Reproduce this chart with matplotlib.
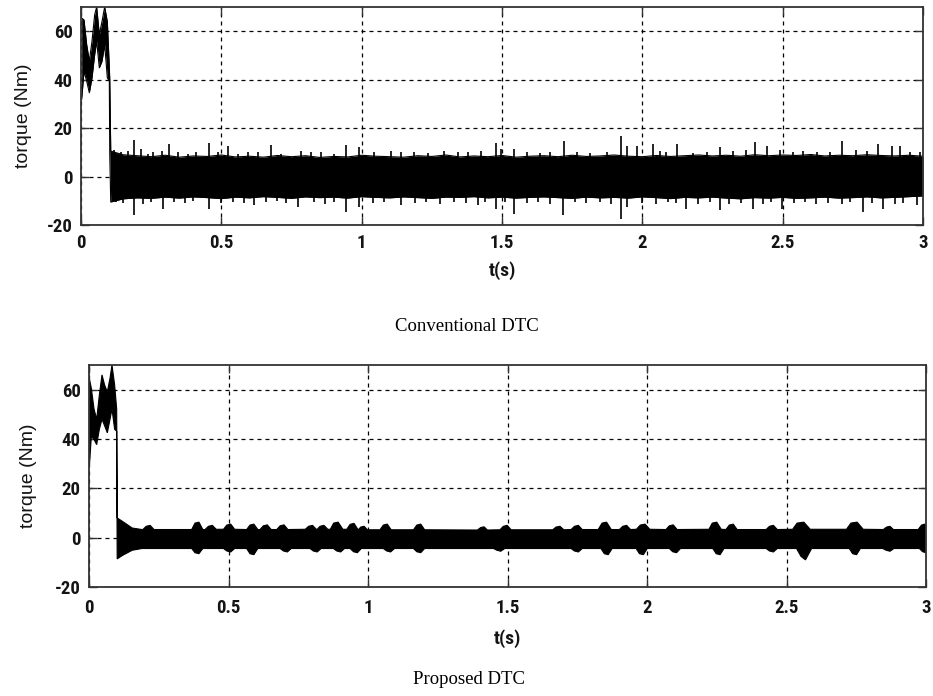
import matplotlib
matplotlib.use("Agg")
import matplotlib.pyplot as plt
from matplotlib import font_manager

# ---------------- data ----------------
xticks = [0, 0.5, 1, 1.5, 2, 2.5, 3]
xtick_labels = ["0", "0.5", "1", "1.5", "2", "2.5", "3"]
yticks = [-20, 0, 20, 40, 60]
ytick_labels = ["-20", "0", "20", "40", "60"]
captions = ["Conventional DTC", "Proposed DTC"]

# Conventional DTC: envelope of the torque signal (start-up + steady band)
conv_t = [0.0024, 0.0107, 0.0202, 0.0297, 0.0392, 0.0487, 0.0558, 0.0653,
          0.0748, 0.0843, 0.0938, 0.1009, 0.1025, 0.106,
          0.15, 0.20, 0.25, 0.30, 0.35, 0.40, 0.45, 0.50, 0.55, 0.60,
          0.65, 0.70, 0.75, 0.80, 0.85, 0.90, 0.95, 1.00, 1.05, 1.10,
          1.15, 1.20, 1.25, 1.30, 1.35, 1.40, 1.45, 1.50, 1.55, 1.60,
          1.65, 1.70, 1.75, 1.80, 1.85, 1.90, 1.95, 2.00, 2.05, 2.10,
          2.15, 2.20, 2.25, 2.30, 2.35, 2.40, 2.45, 2.50, 2.55, 2.60,
          2.65, 2.70, 2.75, 2.80, 2.85, 2.90, 2.95, 3.00]
conv_hi = [65.4, 64.7, 54.5, 47.6, 55.9, 66.8, 70.0, 58.6,
           64.0, 70.0, 64.0, 44.9, 40.0, 10.5,
           9.0, 8.6, 8.2, 8.8, 8.0, 8.5, 8.3, 8.9, 8.1, 8.4,
           8.0, 8.7, 8.2, 8.6, 7.9, 8.3, 8.1, 8.8, 8.4, 8.2,
           8.0, 8.6, 8.3, 8.9, 8.1, 8.5, 8.2, 8.7, 8.0, 8.4,
           8.6, 8.2, 8.8, 8.3, 8.5, 8.9, 8.4, 8.2, 8.7, 8.3,
           8.6, 8.9, 8.5, 8.8, 8.4, 9.0, 8.6, 8.9, 8.7, 9.1,
           8.5, 8.8, 8.6, 9.0, 8.7, 8.5, 8.8, 8.4]
conv_lo = [31.9, 43.5, 39.4, 34.6, 40.8, 50.4, 55.9, 44.9,
           47.6, 54.5, 40.8, 39.4, 9.0, -10.5,
           -9.2, -8.8, -9.0, -8.5, -8.9, -8.4, -8.7, -9.1, -8.5, -8.8,
           -8.3, -8.6, -9.0, -8.4, -8.7, -8.5, -8.9, -8.3, -8.6, -8.8,
           -8.4, -8.7, -9.0, -8.5, -8.6, -8.3, -8.8, -8.5, -8.9, -8.6,
           -8.4, -8.7, -9.0, -8.5, -8.8, -8.6, -8.9, -8.4, -8.7, -9.1,
           -8.6, -8.8, -8.5, -8.9, -9.2, -8.7, -8.9, -8.6, -9.0, -8.8,
           -8.5, -8.9, -8.7, -8.4, -8.8, -8.6, -8.3, -8.0]

# Conventional DTC: peaks above the band
conv_up_t = [0.119, 0.143, 0.166, 0.188, 0.214, 0.238, 0.255, 0.287, 0.315,
             0.344, 0.380, 0.410, 0.457, 0.487, 0.523, 0.558, 0.594, 0.629,
             0.677, 0.713, 0.784, 0.819, 0.855, 0.903, 0.944, 0.992, 1.045,
             1.105, 1.140, 1.188, 1.235, 1.295, 1.342, 1.378, 1.425, 1.479,
             1.496, 1.543, 1.588, 1.635, 1.671, 1.722, 1.766, 1.814, 1.873,
             1.923, 1.944, 1.980, 2.039, 2.063, 2.086, 2.122, 2.181, 2.229,
             2.276, 2.324, 2.371, 2.401, 2.443, 2.490, 2.538, 2.574, 2.621,
             2.669, 2.710, 2.763, 2.799, 2.840, 2.888, 2.918, 2.953, 2.989]
conv_up_v = [11.1, 10.0, 10.7, 15.2, 11.4, 9.3, 10.0, 10.7, 13.4,
             10.3, 9.3, 10.0, 13.8, 10.0, 12.7, 9.3, 10.0, 10.0,
             13.0, 9.3, 10.7, 10.3, 10.0, 9.3, 13.0, 12.4, 10.0,
             10.7, 10.3, 10.0, 9.7, 10.7, 10.3, 10.0, 10.7, 14.0,
             11.4, 11.4, 10.0, 9.7, 10.0, 14.8, 10.3, 9.7, 10.0,
             16.8, 12.7, 12.7, 13.4, 10.7, 10.0, 13.4, 9.7, 10.3,
             12.1, 10.7, 11.1, 14.1, 12.7, 11.1, 10.0, 10.7, 10.0,
             10.3, 14.8, 11.1, 10.7, 13.4, 12.7, 12.7, 10.3, 10.0]

# Conventional DTC: troughs below the band
conv_dn_t = [0.125, 0.150, 0.188, 0.220, 0.250, 0.291, 0.330, 0.370, 0.400,
             0.457, 0.500, 0.540, 0.580, 0.618, 0.660, 0.700, 0.730, 0.772,
             0.830, 0.870, 0.900, 0.944, 0.992, 1.040, 1.080, 1.140, 1.190,
             1.230, 1.280, 1.330, 1.370, 1.413, 1.440, 1.479, 1.510, 1.543,
             1.590, 1.630, 1.670, 1.718, 1.760, 1.800, 1.850, 1.890, 1.923,
             1.944, 2.000, 2.050, 2.090, 2.120, 2.157, 2.200, 2.240, 2.276,
             2.310, 2.350, 2.395, 2.430, 2.460, 2.497, 2.540, 2.580, 2.620,
             2.660, 2.710, 2.740, 2.787, 2.820, 2.858, 2.900, 2.930, 2.977]
conv_dn_v = [-10.5, -10.8, -16.0, -11.2, -10.3, -13.3, -10.6, -11.0, -10.2,
             -13.3, -10.8, -10.3, -11.0, -11.9, -10.5, -10.2, -10.8, -12.6,
             -10.5, -11.2, -10.3, -14.7, -12.6, -10.8, -10.3, -11.9, -11.0,
             -10.5, -11.2, -10.3, -10.8, -11.9, -10.5, -13.3, -10.5, -15.3,
             -10.8, -10.3, -11.2, -16.0, -10.5, -11.0, -10.3, -11.2, -17.4,
             -12.6, -10.8, -11.5, -10.5, -11.0, -13.3, -11.2, -10.5, -14.0,
             -11.5, -10.8, -13.3, -11.2, -10.5, -13.3, -11.0, -10.5, -11.5,
             -10.8, -11.2, -10.5, -14.7, -11.0, -13.3, -11.5, -10.8, -11.9]

# Proposed DTC: upper envelope of the torque signal
prop_hi_t = [0.0012, 0.0084, 0.018, 0.0275, 0.037, 0.0466, 0.0562, 0.0657,
             0.0753, 0.0824, 0.092, 0.0992,
             0.101, 0.12, 0.155, 0.19,
             0.193, 0.205, 0.219, 0.233, 0.368, 0.380, 0.394, 0.408,
             0.416, 0.428, 0.442, 0.456, 0.482, 0.494, 0.508, 0.522,
             0.565, 0.577, 0.591, 0.605, 0.613, 0.625, 0.639, 0.653,
             0.673, 0.685, 0.699, 0.713, 0.775, 0.787, 0.801, 0.815,
             0.818, 0.828, 0.842, 0.856, 0.865, 0.877, 0.893, 0.910,
             0.924, 0.936, 0.950, 0.964, 0.966, 0.974, 0.986, 0.998,
             1.043, 1.055, 1.069, 1.083, 1.163, 1.175, 1.189, 1.203,
             1.392, 1.404, 1.416, 1.428, 1.473, 1.485, 1.499, 1.513,
             1.662, 1.674, 1.688, 1.702, 1.728, 1.740, 1.754, 1.768,
             1.825, 1.839, 1.855, 1.872, 1.901, 1.913, 1.927, 1.941,
             1.962, 1.976, 1.993, 2.010, 2.068, 2.080, 2.094, 2.108,
             2.222, 2.234, 2.250, 2.266, 2.283, 2.295, 2.309, 2.323,
             2.427, 2.439, 2.453, 2.467, 2.522, 2.538, 2.562, 2.585,
             2.715, 2.731, 2.753, 2.775, 2.847, 2.859, 2.871, 2.883,
             2.972, 2.984, 2.996, 3.0]
prop_hi_v = [64.6, 60.5, 52.2, 48.0, 57.7, 66.0, 61.8, 59.1,
             64.6, 70.0, 61.8, 52.2,
             8.0, 6.6, 3.9, 3.3,
             3.3, 4.6, 5.0, 3.3, 3.3, 5.9, 6.3, 3.3,
             3.3, 4.6, 5.0, 3.4, 3.4, 5.1, 5.5, 3.4,
             3.3, 5.1, 5.5, 3.3, 3.3, 4.8, 5.2, 3.3,
             3.3, 4.8, 5.2, 3.3, 3.4, 4.6, 5.0, 3.4,
             3.4, 4.6, 5.0, 3.4, 3.4, 5.9, 6.3, 3.4,
             3.4, 5.4, 5.8, 3.3, 3.3, 4.3, 4.6, 3.2,
             3.2, 5.1, 5.5, 3.2, 3.2, 5.1, 5.5, 3.2,
             3.1, 4.1, 4.4, 3.1, 3.2, 4.6, 5.0, 3.2,
             3.2, 4.3, 4.6, 3.2, 3.3, 4.6, 5.0, 3.3,
             3.3, 5.9, 6.3, 3.3, 3.3, 4.6, 5.0, 3.3,
             3.4, 5.1, 5.5, 3.4, 3.3, 4.8, 5.2, 3.3,
             3.4, 5.9, 6.3, 3.4, 3.3, 5.1, 5.5, 3.3,
             3.3, 4.6, 5.0, 3.3, 3.4, 5.9, 6.3, 3.4,
             3.4, 5.9, 6.3, 3.4, 3.3, 4.3, 4.6, 3.3,
             3.3, 5.1, 5.5, 5.0]

# Proposed DTC: lower envelope of the torque signal
prop_lo_t = [0.0012, 0.0084, 0.018, 0.0275, 0.037, 0.0466, 0.0562, 0.0657,
             0.0753, 0.0824, 0.092, 0.0992,
             0.101, 0.12, 0.155, 0.19,
             0.368, 0.380, 0.394, 0.408, 0.482, 0.494, 0.508, 0.522,
             0.565, 0.577, 0.591, 0.605, 0.685, 0.697, 0.711, 0.725,
             0.792, 0.804, 0.818, 0.832, 0.876, 0.888, 0.902, 0.916,
             0.936, 0.948, 0.962, 0.976, 1.055, 1.067, 1.081, 1.095,
             1.163, 1.175, 1.189, 1.203, 1.450, 1.462, 1.476, 1.490,
             1.728, 1.740, 1.754, 1.768, 1.835, 1.847, 1.861, 1.875,
             1.961, 1.973, 1.987, 2.001, 2.080, 2.092, 2.106, 2.120,
             2.236, 2.248, 2.262, 2.276, 2.427, 2.439, 2.453, 2.467,
             2.536, 2.552, 2.568, 2.590, 2.725, 2.737, 2.751, 2.765,
             2.845, 2.857, 2.871, 2.885, 2.976, 2.988, 3.0]
prop_lo_v = [28.7, 41.1, 39.8, 37.7, 43.9, 48.0, 45.3, 42.5,
             48.0, 52.2, 43.9, 43.2,
             -8.6, -7.2, -5.1, -4.4,
             -4.4, -6.1, -6.5, -4.4, -4.4, -5.4, -5.8, -4.4,
             -4.4, -6.5, -6.9, -4.4, -4.4, -5.4, -5.8, -4.4,
             -4.4, -5.4, -5.8, -4.4, -4.4, -5.4, -5.8, -4.4,
             -4.4, -5.7, -6.1, -4.4, -4.4, -5.4, -5.8, -4.4,
             -4.4, -5.7, -6.1, -4.4, -4.4, -5.1, -5.5, -4.4,
             -4.4, -5.4, -5.8, -4.4, -4.4, -6.5, -6.9, -4.4,
             -4.4, -6.5, -6.9, -4.4, -4.4, -5.7, -6.1, -4.4,
             -4.4, -6.5, -6.9, -4.4, -4.4, -5.4, -5.8, -4.4,
             -4.4, -7.6, -9.0, -4.4, -4.4, -6.5, -6.9, -4.4,
             -4.4, -5.1, -5.5, -4.4, -4.4, -5.7, -6.1]

# ---------------- fonts ----------------
installed = {f.name for f in font_manager.fontManager.ttflist}
tick_family = "Liberation Sans"
for cand in ["Liberation Sans Narrow", "Roboto Condensed", "Open Sans Condensed"]:
    if cand in installed:
        tick_family = cand
        break
tick_font = [tick_family, "DejaVu Sans"]
label_font = ["Liberation Sans", "DejaVu Sans"]
cap_font = ["Liberation Serif", "DejaVu Serif"]
txt_col = "#141414"

fig = plt.figure(figsize=(9.33, 6.96), dpi=100)
fig.patch.set_facecolor("white")

ax_top = fig.add_axes([81 / 933, 1 - 225 / 696, (923 - 81) / 933, (225 - 7) / 696])
ax_bot = fig.add_axes([89 / 933, 1 - 587 / 696, (926 - 89) / 933, (587 - 365) / 696])


def style_axes(ax, xpad, ylab_x, xlab_y):
    ax.set_xlim(0, 3)
    ax.set_ylim(-20, 70)
    ax.set_xticks(xticks)
    ax.set_xticklabels(xtick_labels)
    ax.set_yticks(yticks)
    ax.set_yticklabels(ytick_labels)
    ax.grid(True, color="black", linestyle=(0, (3.2, 3.2)), linewidth=0.9)
    ax.set_axisbelow(True)
    ax.tick_params(direction="in", length=6, width=1.0, top=True, right=True,
                   colors="#333333", labelcolor=txt_col)
    ax.tick_params(axis="x", pad=xpad)
    ax.tick_params(axis="y", pad=6)
    for lab in ax.get_xticklabels() + ax.get_yticklabels():
        lab.set_fontfamily(tick_font)
        lab.set_fontweight("bold")
        lab.set_fontsize(13.5)
    for sp in ax.spines.values():
        sp.set_color("#333333")
        sp.set_linewidth(1.3)
    ax.set_ylabel("torque (Nm)", fontfamily=label_font, fontsize=14,
                  color=txt_col)
    ax.yaxis.set_label_coords(ylab_x, 0.5)
    ax.set_xlabel("t(s)", fontfamily=tick_font, fontweight="bold", fontsize=14,
                  color=txt_col)
    ax.xaxis.set_label_coords(0.5, xlab_y)


# Conventional DTC
ax_top.fill_between(conv_t, conv_lo, conv_hi, color="black", linewidth=0)
ax_top.plot(conv_t, conv_hi, color="black", linewidth=0.8)
ax_top.plot(conv_t, conv_lo, color="black", linewidth=0.8)
ax_top.vlines(conv_up_t, 0, conv_up_v, color="black", linewidth=1.2)
ax_top.vlines(conv_dn_t, 0, conv_dn_v, color="black", linewidth=1.2)
style_axes(ax_top, 6.5, -0.058, -0.165)

# Proposed DTC
poly_t = list(prop_hi_t) + list(prop_lo_t)[::-1]
poly_v = list(prop_hi_v) + list(prop_lo_v)[::-1]
ax_bot.fill(poly_t, poly_v, color="black", linewidth=0.8, edgecolor="black")
style_axes(ax_bot, 8.5, -0.062, -0.19)

fig.text(467 / 933, 1 - 326 / 696, captions[0], ha="center", va="center",
         fontfamily=cap_font, fontsize=13.5, color="black")
fig.text(469 / 933, 1 - 680 / 696, captions[1], ha="center", va="center",
         fontfamily=cap_font, fontsize=13.5, color="black")

fig.savefig("out.png", dpi=100, facecolor="white")
